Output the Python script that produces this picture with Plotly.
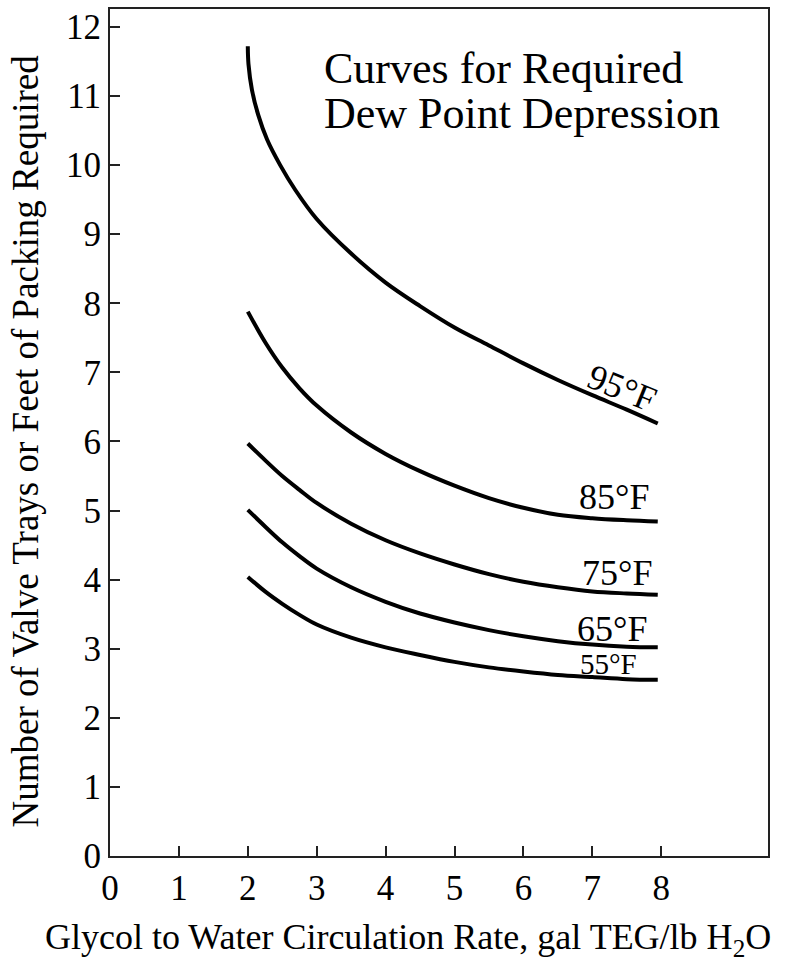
import plotly.graph_objects as go

# Data
x_95 = [2.00, 2.01, 2.06, 2.15, 2.28, 2.47, 2.69, 3.0, 3.5, 4.0, 4.5, 5.0, 5.5, 6.0, 6.5, 7.0, 7.5, 7.95]
y_95 = [11.72, 11.46, 11.09, 10.73, 10.37, 10.00, 9.64, 9.22, 8.72, 8.30, 7.96, 7.65, 7.39, 7.13, 6.89, 6.67, 6.46, 6.26]

x_low = [2.0, 2.25, 2.5, 2.75, 3.0, 3.5, 4.0, 4.5, 5.0, 5.5, 6.0, 6.5, 7.0, 7.5, 7.95]
y_85 = [7.88, 7.44, 7.07, 6.77, 6.52, 6.13, 5.82, 5.57, 5.36, 5.18, 5.04, 4.94, 4.89, 4.86, 4.84]
y_75 = [5.97, 5.73, 5.50, 5.30, 5.11, 4.81, 4.57, 4.38, 4.22, 4.08, 3.97, 3.89, 3.83, 3.80, 3.78]
y_65 = [5.01, 4.77, 4.54, 4.34, 4.16, 3.89, 3.68, 3.51, 3.38, 3.27, 3.18, 3.11, 3.06, 3.03, 3.02]
y_55 = [4.04, 3.83, 3.65, 3.49, 3.35, 3.16, 3.02, 2.91, 2.81, 2.73, 2.67, 2.62, 2.59, 2.56, 2.55]

x_ticks = [0, 1, 2, 3, 4, 5, 6, 7, 8]
y_ticks = [0, 1, 2, 3, 4, 5, 6, 7, 8, 9, 10, 11, 12]

curve_labels = ["95°F", "85°F", "75°F", "65°F", "55°F"]
label_x = [7.43, 7.31, 7.36, 7.28, 7.24]
label_y = [6.78, 5.19, 4.09, 3.29, 2.78]
label_angle = [22, 0, 0, 0, 0]
label_size = [36, 36, 36, 36, 29]

FONT = "Liberation Serif, Times New Roman, serif"

fig = go.Figure()
for xs, ys in [(x_95, y_95), (x_low, y_85), (x_low, y_75), (x_low, y_65), (x_low, y_55)]:
    fig.add_trace(go.Scatter(x=xs, y=ys, mode="lines",
                             line=dict(color="black", width=4, shape="spline", smoothing=1.0),
                             showlegend=False, hoverinfo="skip"))

for t, lx, ly, ang, sz in zip(curve_labels, label_x, label_y, label_angle, label_size):
    fig.add_annotation(x=lx, y=ly, text=t, showarrow=False, textangle=ang,
                       xanchor="center", yanchor="middle",
                       font=dict(family=FONT, size=sz, color="black"))

fig.add_annotation(x=3.07, y=11.40, text="Curves for Required", showarrow=False,
                   xanchor="left", yanchor="middle", font=dict(family=FONT, size=44, color="black"))
fig.add_annotation(x=3.07, y=10.75, text="Dew Point Depression", showarrow=False,
                   xanchor="left", yanchor="middle", font=dict(family=FONT, size=44, color="black"))

fig.add_annotation(xref="paper", yref="paper", x=0.453, y=-0.099,
                   text="Glycol to Water Circulation Rate, gal TEG/lb H<sub>2</sub>O",
                   showarrow=False, xanchor="center", yanchor="middle",
                   font=dict(family=FONT, size=36, color="black"))
fig.add_annotation(xref="paper", yref="paper", x=-0.127, y=0.49,
                   text="Number of Valve Trays or Feet of Packing Required",
                   showarrow=False, textangle=-90, xanchor="center", yanchor="middle",
                   font=dict(family=FONT, size=37, color="black"))

axis_common = dict(showline=True, linecolor="#222", linewidth=2, mirror=True,
                   ticks="inside", ticklen=10, tickwidth=2, tickcolor="#222",
                   showgrid=False, zeroline=False,
                   tickfont=dict(family=FONT, size=35, color="black"))

fig.update_xaxes(range=[0, 9.55], tickvals=x_ticks, ticktext=[str(v) for v in x_ticks], **axis_common)
fig.update_yaxes(range=[0, 12.26], tickvals=y_ticks, ticktext=[str(v) for v in y_ticks], **axis_common)

fig.update_layout(width=790, height=968, margin=dict(l=110, r=22, t=7, b=112),
                  plot_bgcolor="white", paper_bgcolor="white")

fig.write_html("out.html")
